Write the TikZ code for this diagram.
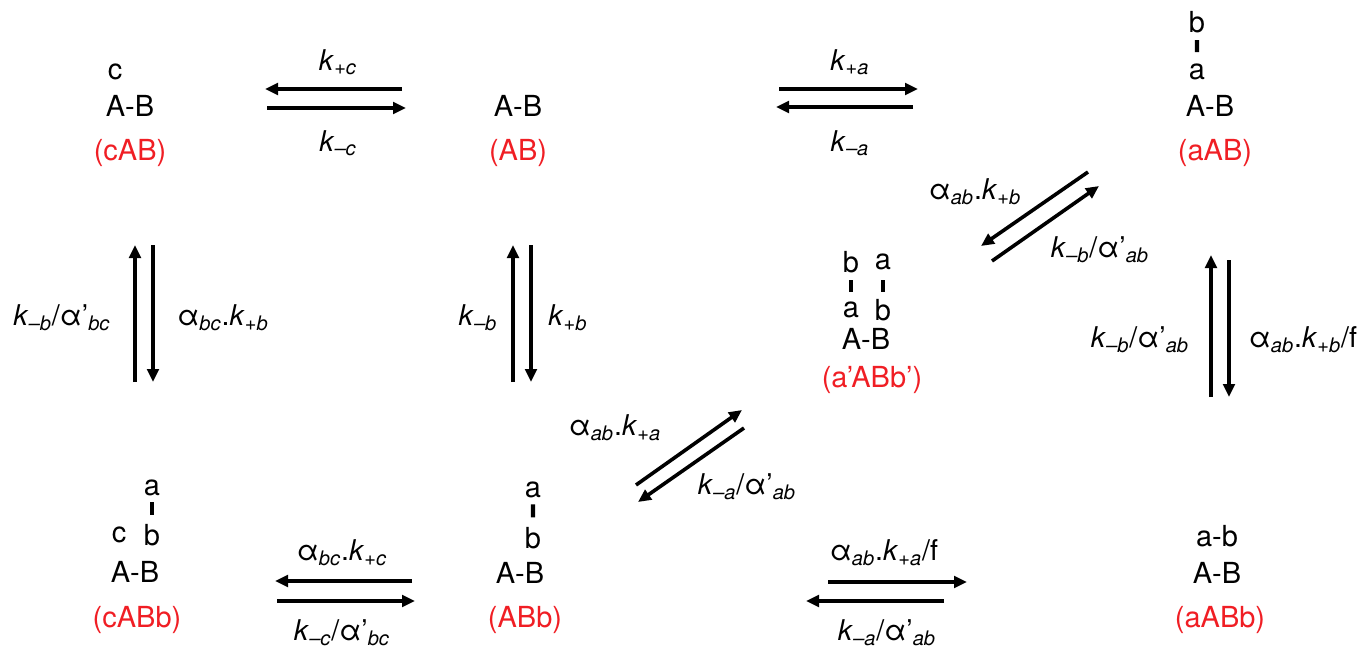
\documentclass[tikz,border=0pt]{standalone}
\usepackage{fontspec}
\setmainfont{TeX Gyre Heros}
\usetikzlibrary{arrows.meta,calc}
\definecolor{spred}{RGB}{240,30,36}
\newcommand\kk[1]{\textit{k}\textsubscript{\textit{#1}}}
\newcommand\al[1]{α\textsubscript{\textit{#1}}}
\newcommand\alp[1]{α’\textsubscript{\textit{#1}}}
\begin{document}
\begin{tikzpicture}[x=0.5pt,y=-0.5pt,
  sp/.style={font=\fontsize{14.5}{17}\selectfont, inner sep=0pt},
  nm/.style={sp, text=spred},
  lbl/.style={font=\fontsize{14.3}{17}\selectfont, inner sep=0pt},
  rx/.style={line width=1.8pt, -{Triangle[length=6.5pt,width=5.8pt]}},
  bond/.style={line width=2.2pt}]
\useasboundingbox (0,0) rectangle (1360,648);
% species
\node[sp] (c1) at (115,72) {c};
\node[sp] (ab1) at (130,106) {A-B};
\node[nm] (n1) at (130,153) {(cAB)};
\node[sp] (ab2) at (518,106) {A-B};
\node[nm] (n2) at (518,153) {(AB)};
\node[sp] (b3) at (1197,22) {b};
\node[sp] (a3) at (1197,72) {a};
\node[sp] (ab3) at (1210,106) {A-B};
\node[nm] (n3) at (1215,153) {(aAB)};
\node[sp] (b4t) at (851,262) {b};
\node[sp] (a4t) at (883,262) {a};
\node[sp] (a4b) at (851,310) {a};
\node[sp] (b4b) at (883,310) {b};
\node[sp] (ab4) at (866,339) {A-B};
\node[nm] (n4) at (872,380) {(a’ABb’)};
\node[sp] (a5) at (152,488) {a};
\node[sp] (c5) at (119,535) {c};
\node[sp] (b5) at (152,535) {b};
\node[sp] (ab5) at (135,572) {A-B};
\node[nm] (n5) at (137,620) {(cABb)};
\node[sp] (a6) at (533,490) {a};
\node[sp] (b6) at (533,538) {b};
\node[sp] (ab6) at (520,573) {A-B};
\node[nm] (n6) at (525,620) {(ABb)};
\node[sp] (ab7t) at (1217,536) {a-b};
\node[sp] (ab7) at (1217,573) {A-B};
\node[nm] (n7) at (1220,620) {(aABb)};
% bonds
\draw[bond] ($(b3)!0.36!(a3)$) -- ($(b3)!0.6!(a3)$);
\draw[bond] ($(b4t)!0.375!(a4b)$) -- ($(b4t)!0.625!(a4b)$);
\draw[bond] ($(a4t)!0.375!(b4b)$) -- ($(a4t)!0.625!(b4b)$);
\draw[bond] ($(a5)!0.3!(b5)$) -- ($(a5)!0.57!(b5)$);
\draw[bond] ($(a6)!0.3!(b6)$) -- ($(a6)!0.57!(b6)$);
% arrow end points
\coordinate (t1s) at (402,89); \coordinate (t1e) at (265,89);
\coordinate (t2s) at (267,108); \coordinate (t2e) at (406,108);
\coordinate (t3s) at (779,89); \coordinate (t3e) at (918,89);
\coordinate (t4s) at (913,107); \coordinate (t4e) at (776,107);
\coordinate (d1s) at (1088,172); \coordinate (d1e) at (981,246);
\coordinate (d2s) at (992,261); \coordinate (d2e) at (1099,186);
\coordinate (v1s) at (135,382); \coordinate (v1e) at (135,245);
\coordinate (v2s) at (153,245); \coordinate (v2e) at (153,382);
\coordinate (v3s) at (513,382); \coordinate (v3e) at (513,245);
\coordinate (v4s) at (531,245); \coordinate (v4e) at (531,382);
\coordinate (v5s) at (1211,397); \coordinate (v5e) at (1211,255);
\coordinate (v6s) at (1229,260); \coordinate (v6e) at (1229,397);
\coordinate (d3s) at (636,485); \coordinate (d3e) at (742,410);
\coordinate (d4s) at (744,428); \coordinate (d4e) at (638,502);
\coordinate (b1s) at (412,581); \coordinate (b1e) at (275,581);
\coordinate (b2s) at (277,601); \coordinate (b2e) at (415,601);
\coordinate (b3s) at (828,582); \coordinate (b3e) at (967,582);
\coordinate (b4s) at (944,601); \coordinate (b4e) at (806,601);
% arrows
\foreach \p in {t1,t2,t3,t4,d1,d2,v1,v2,v3,v4,v5,v6,d3,d4,b1,b2,b3,b4}
  \draw[rx] (\p s) -- (\p e);
% rate labels
\node[lbl] (l1) at (338,62) {\kk{+c}};
\node[lbl] (l2) at (338,143) {\kk{–c}};
\node[lbl] (l3) at (850,62) {\kk{+a}};
\node[lbl] (l4) at (850,143) {\kk{–a}};
\node[lbl] (l5) at (975,192) {\al{ab}.\kk{+b}};
\node[lbl] (l6) at (1100,250) {\kk{–b}/\alp{ab}};
\node[lbl] (l7) at (62,318) {\kk{–b}/\alp{bc}};
\node[lbl] (l8) at (223,318) {\al{bc}.\kk{+b}};
\node[lbl] (l9) at (478,318) {\kk{–b}};
\node[lbl] (l10) at (568,318) {\kk{+b}};
\node[lbl] (l11) at (1140,340) {\kk{–b}/\alp{ab}};
\node[lbl] (l12) at (1303,340) {\al{ab}.\kk{+b}/f};
\node[lbl] (l13) at (615,428) {\al{ab}.\kk{+a}};
\node[lbl] (l14) at (747,487) {\kk{–a}/\alp{ab}};
\node[lbl] (l15) at (342,553) {\al{bc}.\kk{+c}};
\node[lbl] (l16) at (342,633) {\kk{–c}/\alp{bc}};
\node[lbl] (l17) at (884,553) {\al{ab}.\kk{+a}/f};
\node[lbl] (l18) at (887,633) {\kk{–a}/\alp{ab}};
\end{tikzpicture}
\end{document}
